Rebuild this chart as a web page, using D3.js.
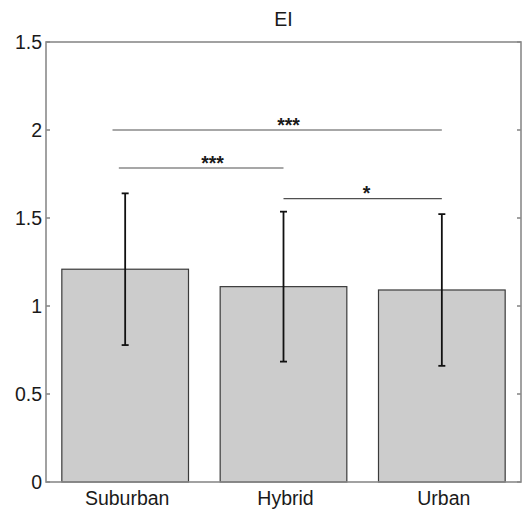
<!DOCTYPE html>
<html>
<head>
<meta charset="utf-8">
<script src="https://cdn.jsdelivr.net/npm/d3@7"></script>
<style>
  body { margin: 0; background: #fff; }
  text { font-family: "Liberation Sans", Arial, sans-serif; fill: #1a1a1a; }
</style>
</head>
<body>
<div id="chart"></div>
<script>
// bar chart with error bars and significance brackets
const categories = ["Suburban", "Hybrid", "Urban"];
const means = [1.209, 1.110, 1.091];
const errors = [0.431, 0.426, 0.431];

const yTickValues = [0, 0.5, 1, 1.5, 2, 2.5];
const yTickLabels = ["0", "0.5", "1", "1.5", "2", "1.5"];

// significance lines (x in bar-index units)
const sigFrom = [0.92, 0.96, 2.0];
const sigTo = [3.0, 2.0, 3.0];
const sigLevel = [2.0, 1.784, 1.61];
const sigLabels = ["***", "***", "*"];

const title = "EI";

const W = 522, H = 510;
const mLeft = 46, mRight = 521, mTop = 42, mBottom = 482;
const fontSize = 19.5;

const svg = d3.select("#chart").append("svg")
  .attr("width", W)
  .attr("height", H);

const x = d3.scaleLinear().domain([0.5, 3.5]).range([mLeft, mRight]);
const y = d3.scaleLinear().domain([0, 2.5]).range([mBottom, mTop]);
const barW = x(0.8) - x(0);

const frameColor = "#8a8a8a";

// bars
svg.append("g")
  .selectAll("rect")
  .data(means)
  .join("rect")
  .attr("x", (d, i) => x(i + 1) - barW / 2)
  .attr("y", d => y(d))
  .attr("width", barW)
  .attr("height", d => y(0) - y(d))
  .attr("fill", "#cccccc")
  .attr("stroke", "#3a3a3a")
  .attr("stroke-width", 1.2);

// error bars
const eb = svg.append("g").attr("stroke", "#111").attr("stroke-width", 1.8);
means.forEach((m, i) => {
  const cx = x(i + 1);
  eb.append("line").attr("x1", cx).attr("x2", cx)
    .attr("y1", y(m + errors[i])).attr("y2", y(m - errors[i]));
  [m + errors[i], m - errors[i]].forEach(v => {
    eb.append("line").attr("x1", cx - 3.5).attr("x2", cx + 3.5)
      .attr("y1", y(v)).attr("y2", y(v));
  });
});

// frame
const frame = svg.append("g").attr("stroke", frameColor).attr("stroke-width", 1.6).attr("fill", "none");
frame.append("rect").attr("x", mLeft).attr("y", mTop)
  .attr("width", mRight - mLeft).attr("height", mBottom - mTop);

// y ticks (inward, both sides)
yTickValues.forEach(v => {
  frame.append("line").attr("x1", mLeft).attr("x2", mLeft + 4).attr("y1", y(v)).attr("y2", y(v));
  frame.append("line").attr("x1", mRight - 4).attr("x2", mRight).attr("y1", y(v)).attr("y2", y(v));
});

svg.append("g")
  .selectAll("text")
  .data(yTickValues)
  .join("text")
  .attr("x", mLeft - 4)
  .attr("y", d => y(d))
  .attr("dy", "0.36em")
  .attr("text-anchor", "end")
  .attr("font-size", fontSize)
  .text((d, i) => yTickLabels[i]);

// category labels
svg.append("g")
  .selectAll("text")
  .data(categories)
  .join("text")
  .attr("x", (d, i) => x(i + 1) + 2)
  .attr("y", 505)
  .attr("text-anchor", "middle")
  .attr("font-size", fontSize)
  .text(d => d);

// significance brackets
const sig = svg.append("g");
sigLevel.forEach((lv, i) => {
  const x1 = x(sigFrom[i]), x2 = x(sigTo[i]);
  sig.append("line")
    .attr("x1", x1).attr("x2", x2)
    .attr("y1", y(lv)).attr("y2", y(lv))
    .attr("stroke", "#505050")
    .attr("stroke-width", 1.2);
  sig.append("text")
    .attr("x", (x1 + x2) / 2)
    .attr("y", y(lv) + 1.5)
    .attr("font-size", fontSize)
    .attr("font-weight", "bold")
    .attr("text-anchor", "start")
    .text(sigLabels[i]);
});

// title
svg.append("text")
  .attr("x", (mLeft + mRight) / 2)
  .attr("y", 26)
  .attr("text-anchor", "middle")
  .attr("font-size", fontSize)
  .text(title);
</script>
</body>
</html>
